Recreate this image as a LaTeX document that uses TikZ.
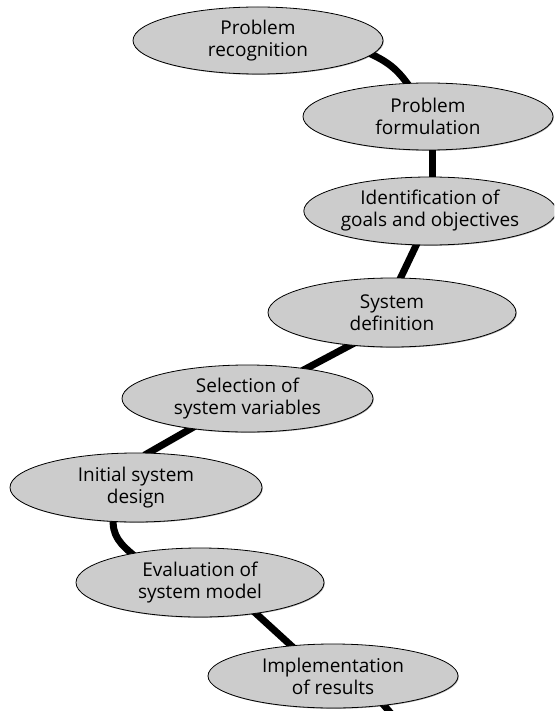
\documentclass[tikz,border=0pt]{standalone}
\usepackage{fontspec}
\setmainfont{Open Sans}
\usetikzlibrary{shapes.geometric,shadows,backgrounds}
\definecolor{stepfill}{RGB}{204,204,204}
\tikzset{
  stage/.style={ellipse, draw=black, line width=0.8pt, fill=stepfill,
    inner sep=0pt, align=center,
    font=\fontsize{19pt}{22pt}\selectfont,
    drop shadow={shadow xshift=0.8pt, shadow yshift=-0.8pt, opacity=0.35, fill=black}},
  link/.style={line width=7pt, black, shorten <=-5pt, shorten >=-5pt}
}
\begin{document}
\begin{tikzpicture}[x=1pt,y=-1pt]
\clip (0,0) rectangle (554,711);
\useasboundingbox (0,0) rectangle (554,711);
\node[stage, minimum width=250pt, minimum height=67pt] (n1) at (258,40.5) {Problem\\recognition};
\node[stage, minimum width=250pt, minimum height=67pt] (n2) at (428,116.5) {Problem\\formulation};
\node[stage, minimum width=246pt, minimum height=68pt] (n3) at (430,211) {Identification of\\goals and objectives};
\node[stage, minimum width=248pt, minimum height=69pt] (n4) at (392,312.5) {System\\definition};
\node[stage, minimum width=251pt, minimum height=67pt] (n5) at (247.5,398.5) {Selection of\\system variables};
\node[stage, minimum width=252pt, minimum height=69pt] (n6) at (136,487.5) {Initial system\\design};
\node[stage, minimum width=248pt, minimum height=69pt] (n7) at (200,582.5) {Evaluation of\\system model};
\node[stage, minimum width=250pt, minimum height=64pt] (n8) at (333,676) {Implementation\\of results};
\coordinate (exit) at (400,724);
\begin{scope}[on background layer]
\draw[link] (n1.-7.4) to[out=-25,in=125] (n2.122);
\draw[link] (n2.south -| 432,0) -- (n3.north -| 432,0);
\draw[link] (n3.248) -- (n4.76);
\draw[link] (n4.218) -- (n5.27);
\draw[link] (n5.208) -- (n6.70);
\draw[link] (n6.236) to[out=-95,in=140] (n7.157);
\draw[link] (n7.-29) -- (n8.144);
\draw[link] (n8.-30) -- (exit);
\end{scope}
\end{tikzpicture}
\end{document}
